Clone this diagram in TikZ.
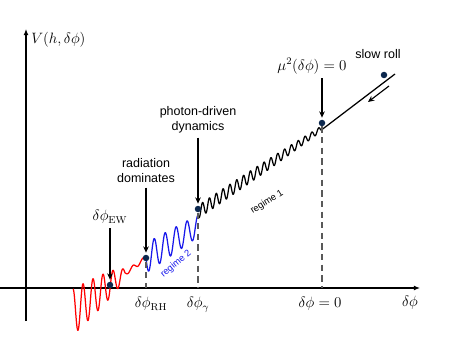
\documentclass[tikz,border=0pt]{standalone}
\usepackage{amsmath}
\usepackage{fontspec}
\setsansfont{Liberation Sans}
\usepackage{tikz}
\usetikzlibrary{arrows.meta, positioning, calc}

\definecolor{dotblue}{RGB}{12,40,78}
\definecolor{regblue}{RGB}{25,25,235}

\begin{document}
\begin{tikzpicture}[x=0.8pt, y=0.8pt,
    dot/.style={circle, fill=dotblue, inner sep=0pt, minimum size=5.2pt},
    lbl/.style={font=\sffamily, align=center},
    pointer/.style={-{Stealth[length=5pt, width=4.5pt]}, line width=0.9pt, shorten >=1.5pt},
    guide/.style={dash pattern=on 5pt off 3.5pt, black!65, line width=0.9pt}]
    \useasboundingbox (0, 0) rectangle (455, 342);
    % axes
    \coordinate (xl) at (0, 54);
    \coordinate (xr) at (420, 54);
    \coordinate (yb) at (26, 21);
    \coordinate (yt) at (26, 313);
    \draw[line width=0.9pt, -{Latex[length=5pt, width=4pt]}] (xl) -- (xr);
    \draw[line width=0.9pt, -{Latex[length=5pt, width=4pt]}] (yb) -- (yt);
    \node[anchor=west, font=\large] (vlab) at (27, 302) {$V(h,\delta\phi)$};
    \node[font=\large] (philab) at (410, 39) {$\delta\phi$};
    % potential: red, blue (regime 2), black (regime 1), then slow roll
    \draw[red, line width=1pt, line join=round, domain=73:146, samples=300]
        plot (\x, {30 + 0.74*(\x-73) + (2 + 21*sqrt(max(0.0001,(125-\x)/52)))*sin(36*(\x-70.5))});
    \draw[regblue, line width=1pt, line join=round, domain=146:198, samples=200]
        plot (\x, {84 + 0.615*(\x-146) - (15 - 4*(\x-146)/52)*sin(32.877*(\x-146))});
    \draw[line width=1pt, line join=round, domain=198:321, samples=400]
        plot (\x, {130 + 0.675*(\x-198) - (6.5 - 4*((\x-198)/123)^2)*sin(52.686*(\x-198) + 30)});
    \coordinate (kink) at (321, 211.7);
    \coordinate (top) at (395, 268);
    \draw[line width=1pt] (kink) -- (top);
    \node[dot] (ew) at (110, 57) {};
    \node[dot] (rh) at (146, 84) {};
    \node[dot] (gam) at (198, 133) {};
    \node[dot] (mu) at (322, 219) {};
    \node[dot] (sr) at (384, 267) {};
    % dashed guides down to the axis
    \draw[guide] (rh) -- (rh |- xl);
    \draw[guide] (gam) -- (gam |- xl);
    \draw[guide] (mu) -- (mu |- xl);
    \node[font=\large, anchor=north] (rhlab) at (151, 49) {$\delta\phi_{\mathrm{RH}}$};
    \node[font=\large, anchor=north] (gamlab) at (198, 49) {$\delta\phi_\gamma$};
    \node[font=\large, anchor=north] (zerolab) at (320, 49) {$\delta\phi=0$};
    % annotations
    \node[font=\large] (ewlab) at (110, 125) {$\delta\phi_{\mathrm{EW}}$};
    \node[lbl] (rad) at (146, 171) {radiation\\dominates};
    \node[lbl] (pho) at (198, 222) {photon-driven\\dynamics};
    \node[font=\large] (mulab) at (312, 276) {$\mu^2(\delta\phi)=0$};
    \node[lbl] (slow) at (378, 288) {slow roll};
    \draw[pointer] (ewlab) -- (ew);
    \draw[pointer] (rad) -- (rh);
    \draw[pointer] (pho) -- (gam);
    \draw[pointer] (mulab.south -| mu) -- (mu);
    \coordinate (sra) at (389, 256);
    \coordinate (srb) at (368, 240);
    \draw[pointer, shorten >=0pt] (sra) -- (srb);
    \node[font=\sffamily\fontsize{7.5}{9}\selectfont, text=regblue, rotate=40] (reg2) at (176, 78) {regime 2};
    \node[font=\sffamily\fontsize{7.5}{9}\selectfont, rotate=32] (reg1) at (267, 140) {regime 1};
\end{tikzpicture}
\end{document}
